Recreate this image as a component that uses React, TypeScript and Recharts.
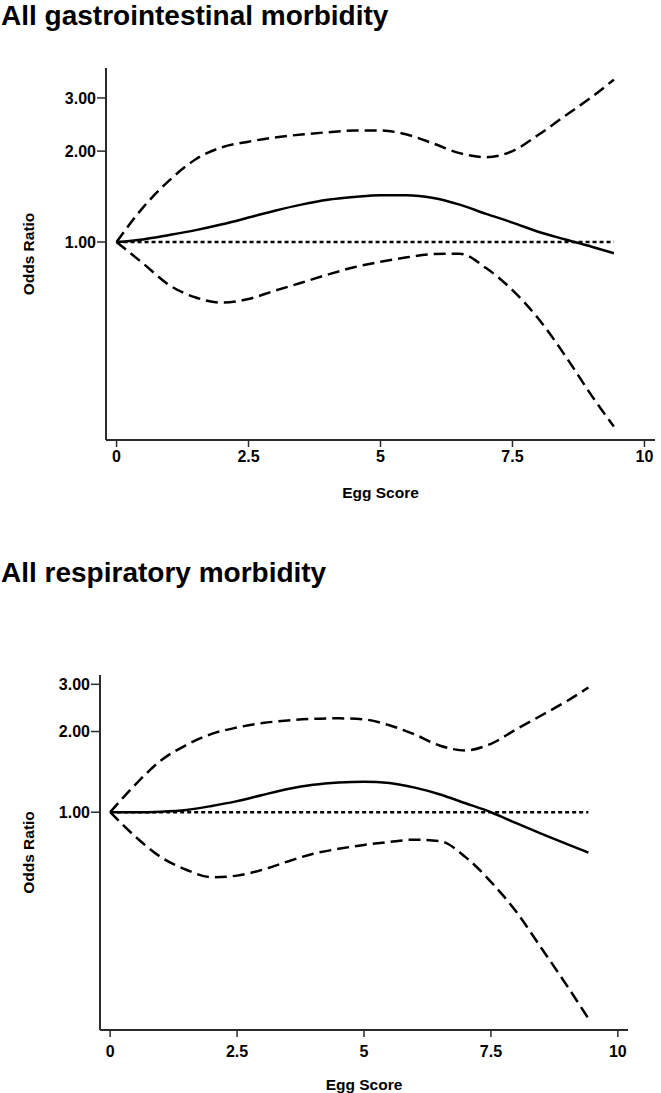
import { LineChart, Line, XAxis, YAxis, ReferenceLine, Label } from 'recharts'

// egg score positions the curves were read at
const eggScore = [0, 0.5, 1, 1.5, 2, 2.5, 3, 3.5, 4, 4.5, 5, 5.5, 6, 6.5, 7, 7.5, 8, 8.5, 9, 9.42]

// All gastrointestinal morbidity
const giOdds = [1, 1.02, 1.055, 1.095, 1.145, 1.205, 1.27, 1.33, 1.38, 1.41, 1.43, 1.43, 1.4, 1.33, 1.24, 1.16, 1.08, 1.02, 0.965, 0.918]
const giUpper = [1, 1.3, 1.6, 1.88, 2.06, 2.15, 2.22, 2.27, 2.31, 2.34, 2.34, 2.27, 2.12, 1.97, 1.91, 2.0, 2.27, 2.62, 3.02, 3.45]
const giLower = [1, 0.85, 0.72, 0.655, 0.63, 0.648, 0.69, 0.733, 0.78, 0.825, 0.86, 0.89, 0.912, 0.915, 0.82, 0.693, 0.555, 0.42, 0.31, 0.245]

// All respiratory morbidity
const respOdds = [1, 1, 1.005, 1.02, 1.055, 1.1, 1.16, 1.22, 1.265, 1.29, 1.3, 1.285, 1.235, 1.165, 1.08, 1.0, 0.91, 0.83, 0.76, 0.707]
const respUpper = [1, 1.27, 1.56, 1.78, 1.96, 2.07, 2.15, 2.2, 2.23, 2.24, 2.22, 2.11, 1.95, 1.77, 1.7, 1.8, 2.04, 2.3, 2.6, 2.92]
const respLower = [1, 0.81, 0.68, 0.61, 0.572, 0.58, 0.61, 0.655, 0.7, 0.73, 0.755, 0.775, 0.79, 0.78, 0.68, 0.55, 0.425, 0.31, 0.225, 0.17]

const xTicks = [0, 2.5, 5, 7.5, 10]
const yTicks = [1, 2, 3]

const font = '"Liberation Sans", Arial, Helvetica, sans-serif'
const tickStyle = { fill: '#000', fontSize: 16, fontWeight: 700, fontFamily: font }
const labelStyle = { fill: '#000', fontSize: 15.5, fontWeight: 700, fontFamily: font, textAnchor: 'middle' as const }

type PanelProps = {
  odds: number[]
  upper: number[]
  lower: number[]
  top: number
  height: number
  margin: { top: number; right: number; bottom: number; left: number }
  yWidth: number
  yDomain: [number, number]
  xHeight: number
  xTickMargin: number
  xLabelOffset: number
}

function Panel(p: PanelProps) {
  const data = eggScore.map((x, i) => ({ x, odds: p.odds[i], upper: p.upper[i], lower: p.lower[i] }))
  return (
    <div style={{ position: 'absolute', left: 0, top: p.top }}>
      <LineChart width={661} height={p.height} data={data} margin={p.margin}>
        <XAxis
          dataKey='x'
          type='number'
          domain={[-0.2, 10.2]}
          ticks={xTicks}
          height={p.xHeight}
          tick={tickStyle}
          tickSize={7}
          tickMargin={p.xTickMargin}
          axisLine={{ stroke: '#2b2b2b', strokeWidth: 2 }}
          tickLine={{ stroke: '#2b2b2b', strokeWidth: 1.5 }}
          allowDataOverflow
        >
          <Label value='Egg Score' position='insideBottom' offset={p.xLabelOffset} style={labelStyle} />
        </XAxis>
        <YAxis
          scale='log'
          domain={p.yDomain}
          ticks={yTicks}
          allowDataOverflow
          width={p.yWidth}
          tick={tickStyle}
          tickFormatter={(v: number) => v.toFixed(2)}
          tickSize={9}
          tickMargin={1}
          axisLine={{ stroke: '#2b2b2b', strokeWidth: 2 }}
          tickLine={{ stroke: '#2b2b2b', strokeWidth: 1.5 }}
        >
          <Label value='Odds Ratio' angle={-90} position='insideLeft' offset={28} style={labelStyle} />
        </YAxis>
        <ReferenceLine
          segment={[{ x: 0, y: 1 }, { x: 9.42, y: 1 }]}
          stroke='#000'
          strokeWidth={2.5}
          strokeDasharray='4 3'
        />
        <Line dataKey='upper' type='monotone' stroke='#000' strokeWidth={2.5} strokeDasharray='12 6' dot={false} isAnimationActive={false} />
        <Line dataKey='lower' type='monotone' stroke='#000' strokeWidth={2.5} strokeDasharray='12 6' dot={false} isAnimationActive={false} />
        <Line dataKey='odds' type='monotone' stroke='#000' strokeWidth={2.5} dot={false} isAnimationActive={false} />
      </LineChart>
    </div>
  )
}

const titleStyle = {
  position: 'absolute' as const,
  left: 1,
  margin: 0,
  fontFamily: font,
  fontWeight: 700,
  fontSize: 28,
  lineHeight: '28px',
  color: '#000',
  whiteSpace: 'nowrap' as const,
}

export default function App() {
  return (
    <div style={{ position: 'absolute', left: 0, top: 0, width: 661, height: 1093, background: '#fff', overflow: 'hidden' }}>
      <div style={{ ...titleStyle, top: 2 }}>All gastrointestinal morbidity</div>
      <Panel
        odds={giOdds}
        upper={giUpper}
        lower={giLower}
        top={0}
        height={520}
        margin={{ top: 68, right: 6, bottom: 20, left: 0 }}
        yWidth={106}
        yDomain={[0.221, 3.77]}
        xHeight={60}
        xTickMargin={4}
        xLabelOffset={2.5}
      />
      <div style={{ ...titleStyle, top: 559 }}>All respiratory morbidity</div>
      <Panel
        odds={respOdds}
        upper={respUpper}
        lower={respLower}
        top={600}
        height={500}
        margin={{ top: 75, right: 33, bottom: 7, left: 0 }}
        yWidth={100}
        yDomain={[0.154, 3.25]}
        xHeight={63}
        xTickMargin={9}
        xLabelOffset={3}
      />
    </div>
  )
}
